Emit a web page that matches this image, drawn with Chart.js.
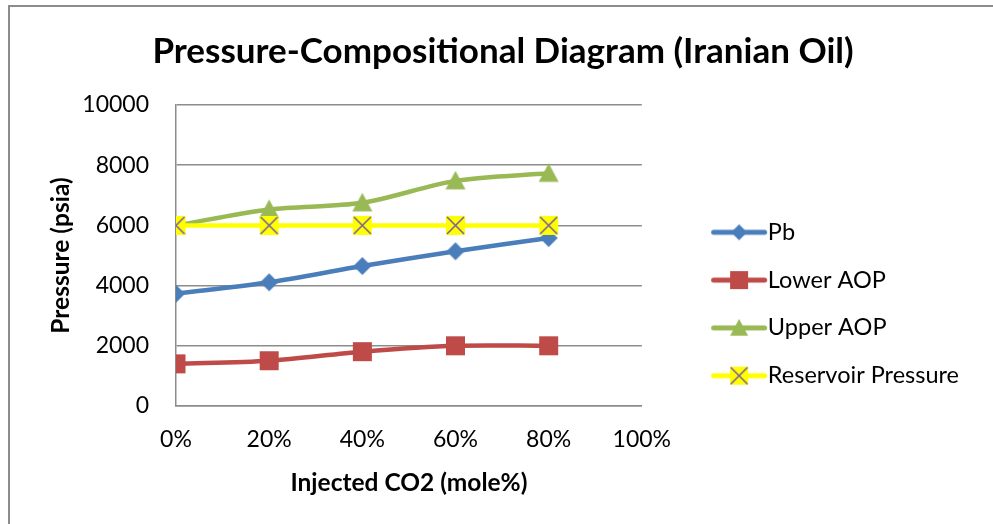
<!DOCTYPE html>
<html><head><meta charset="utf-8">
<script src="https://cdn.jsdelivr.net/npm/chart.js@4/dist/chart.umd.min.js"></script>
<style>
html,body{margin:0;padding:0;background:#fff;overflow:hidden}
#wrap{position:relative;width:993px;height:524px}
#frame{position:absolute;left:8px;top:5px;width:1100px;height:700px;border-left:2px solid #8c8c8c;border-top:2px solid #8c8c8c;pointer-events:none}
canvas{position:absolute;left:0;top:0}
</style></head><body>
<div id="wrap"><canvas id="c" width="993" height="524"></canvas><div id="frame"></div></div>
<script>
// ---- data ----
const co2Percent = [0, 20, 40, 60, 80];
const seriesNames = ['Pb', 'Lower AOP', 'Upper AOP', 'Reservoir Pressure'];
const pb = [3730, 4110, 4650, 5140, 5580];
const lowerAOP = [1400, 1505, 1805, 2000, 2000];
const upperAOP = [6000, 6530, 6750, 7480, 7730];
const reservoirPressure = [6000, 6000, 6000, 6000, 6000];
const xTickValues = [0, 20, 40, 60, 80, 100];
const yTickValues = [0, 2000, 4000, 6000, 8000, 10000];

const FONT = 'Lato, "Open Sans", sans-serif';
const COLORS = ['#4A7EBB', '#BE4B48', '#98B954', '#FFFF00'];
const PURPLE = '#7D60A0';

function pts(arr) { return co2Percent.map((x, i) => ({x: x, y: arr[i]})); }

function drawMarker(ctx, kind, cx, cy, s) {
  ctx.save();
  if (kind === 'diamond') {
    ctx.fillStyle = COLORS[0];
    ctx.beginPath();
    ctx.moveTo(cx, cy - s); ctx.lineTo(cx + s, cy); ctx.lineTo(cx, cy + s); ctx.lineTo(cx - s, cy); ctx.closePath(); ctx.fill();
  } else if (kind === 'square') {
    ctx.fillStyle = COLORS[1];
    ctx.fillRect(cx - s, cy - s, 2 * s, 2 * s);
  } else if (kind === 'triangle') {
    ctx.fillStyle = COLORS[2];
    ctx.beginPath();
    ctx.moveTo(cx, cy - s); ctx.lineTo(cx + s, cy + s * 0.85); ctx.lineTo(cx - s, cy + s * 0.85); ctx.closePath(); ctx.fill();
  } else if (kind === 'x') {
    ctx.fillStyle = COLORS[3];
    ctx.fillRect(cx - s, cy - s, 2 * s, 2 * s);
    ctx.strokeStyle = PURPLE; ctx.lineWidth = 1.6;
    ctx.beginPath();
    ctx.moveTo(cx - s + 1, cy - s + 1); ctx.lineTo(cx + s - 1, cy + s - 1);
    ctx.moveTo(cx + s - 1, cy - s + 1); ctx.lineTo(cx - s + 1, cy + s - 1);
    ctx.stroke();
  }
  ctx.restore();
}

function markerCanvas(kind, s) {
  const c = document.createElement('canvas');
  c.width = 2 * s + 2; c.height = 2 * s + 2;
  drawMarker(c.getContext('2d'), kind, s + 1, s + 1, s);
  return c;
}

const kinds = ['diamond', 'square', 'triangle', 'x'];
function legendCanvas(i) {
  const c = document.createElement('canvas');
  c.width = 116; c.height = 22;
  const ctx = c.getContext('2d');
  ctx.strokeStyle = COLORS[i]; ctx.lineWidth = 5; ctx.lineCap = 'round';
  ctx.beginPath(); ctx.moveTo(60.5, 11); ctx.lineTo(111.5, 11); ctx.stroke();
  drawMarker(ctx, kinds[i], 86, 11, i === 0 ? 8 : 9);
  return c;
}
const legendImgs = [0, 1, 2, 3].map(legendCanvas);

const pointImgs = [markerCanvas('diamond', 9), markerCanvas('square', 9.5), markerCanvas('triangle', 10), markerCanvas('x', 9.5)];

const seriesData = [pb, lowerAOP, upperAOP, reservoirPressure];
const datasets = seriesData.map((arr, i) => ({
  label: seriesNames[i],
  data: pts(arr),
  borderColor: COLORS[i],
  backgroundColor: COLORS[i],
  borderWidth: 4.5,
  tension: i === 3 ? 0 : 0.3,
  pointStyle: pointImgs[i],
  pointRadius: 9,
  order: 3 - i
}));

// center the chart title over the whole frame, as in the original
const titleCenterPlugin = {
  id: 'titleCenter',
  afterLayout(chart) {
    const tb = chart.titleBlock;
    if (tb) { tb.left = 13; tb.right = 993; }
  }
};

new Chart(document.getElementById('c'), {
  type: 'line',
  data: {datasets: datasets},
  plugins: [titleCenterPlugin],
  options: {
    responsive: false,
    animation: false,
    devicePixelRatio: 1,
    layout: {padding: {left: 0, right: 24, top: 0, bottom: 0}},
    plugins: {
      tooltip: {enabled: false},
      title: {
        display: true,
        text: 'Pressure-Compositional Diagram (Iranian Oil)',
        color: '#000',
        font: {family: FONT, size: 35, weight: 'bold'},
        padding: {top: 31, bottom: 32}
      },
      legend: {
        position: 'right',
        align: 'center',
        maxWidth: 420,
        title: {display: true, text: ' ', font: {family: FONT, size: 10}, padding: {top: 0, bottom: 72}},
        labels: {
          usePointStyle: true,
          pointStyleWidth: 90,
          padding: 24.3,
          color: '#000',
          font: {family: FONT, size: 23.5},
          sort: (a, b) => a.datasetIndex - b.datasetIndex,
          generateLabels: (chart) => {
            const items = Chart.defaults.plugins.legend.labels.generateLabels(chart);
            items.forEach(it => { it.pointStyle = legendImgs[it.datasetIndex]; });
            return items;
          }
        }
      }
    },
    scales: {
      x: {
        type: 'linear',
        min: 0, max: 100,
        afterBuildTicks: (s) => { s.ticks = xTickValues.map(v => ({value: v})); },
        afterFit: (s) => { s.height = 118; },
        ticks: {color: '#000', font: {family: FONT, size: 23}, padding: 20, callback: (v) => v + '%', maxRotation: 0},
        grid: {display: false, drawTicks: false},
        border: {display: true, color: '#8c8c8c', width: 1.5},
        title: {display: true, text: 'Injected CO2 (mole%)', color: '#000', font: {family: FONT, size: 24.5, weight: 'bold'}, padding: {top: 0, bottom: 26}}
      },
      y: {
        type: 'linear',
        min: 0, max: 10000,
        afterBuildTicks: (s) => { s.ticks = yTickValues.map(v => ({value: v})); },
        afterFit: (s) => { s.width = 176; },
        ticks: {color: '#000', font: {family: FONT, size: 23}, padding: 27, callback: (v) => String(v)},
        grid: {color: '#8c8c8c', lineWidth: 1.5, drawTicks: false},
        border: {display: true, color: '#8c8c8c', width: 1.5},
        title: {display: true, text: 'Pressure (psia)', color: '#000', font: {family: FONT, size: 24.5, weight: 'bold'}, padding: {top: 46, bottom: 0}}
      }
    }
  }
});
</script>
</body></html>
